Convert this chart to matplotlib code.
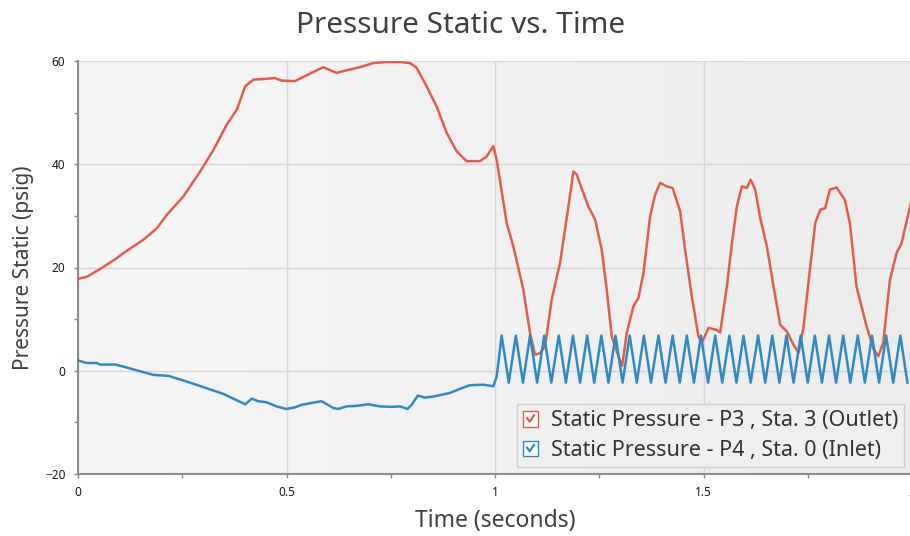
import numpy as np
import matplotlib
matplotlib.use('Agg')
import matplotlib.pyplot as plt
from matplotlib.legend_handler import HandlerBase
from matplotlib.patches import Rectangle
from matplotlib.lines import Line2D

plt.rcParams['font.family'] = ['Noto Sans', 'DejaVu Sans']

# P3 (outlet) static pressure, psig
p3_t = [0.000, 0.021, 0.053, 0.093, 0.109, 0.157, 0.189, 0.213, 0.253, 0.293,
        0.325, 0.357, 0.381, 0.401, 0.421, 0.444, 0.472, 0.488, 0.520, 0.540,
        0.560, 0.588, 0.620, 0.644, 0.676, 0.708, 0.740, 0.772, 0.796, 0.812,
        0.836, 0.860, 0.884, 0.908, 0.932, 0.964, 0.980, 0.996, 1.004, 1.028,
        1.044, 1.068, 1.084, 1.096, 1.108, 1.120, 1.136, 1.156, 1.176, 1.188,
        1.196, 1.212, 1.224, 1.240, 1.256, 1.268, 1.280, 1.296, 1.305, 1.316,
        1.332, 1.344, 1.356, 1.372, 1.384, 1.396, 1.412, 1.426, 1.444, 1.456,
        1.472, 1.488, 1.496, 1.512, 1.532, 1.540, 1.556, 1.568, 1.580, 1.592,
        1.604, 1.613, 1.624, 1.636, 1.652, 1.668, 1.684, 1.700, 1.716, 1.728,
        1.740, 1.756, 1.768, 1.780, 1.792, 1.803, 1.819, 1.839, 1.851, 1.867,
        1.891, 1.907, 1.919, 1.931, 1.947, 1.963, 1.975, 2.000]
p3_v = [17.8, 18.2, 19.7, 21.8, 22.8, 25.4, 27.6, 30.2, 33.8, 38.6,
        42.8, 47.7, 50.6, 55.1, 56.4, 56.5, 56.7, 56.2, 56.1, 56.9,
        57.7, 58.8, 57.7, 58.2, 58.8, 59.6, 59.8, 59.8, 59.6, 58.7,
        55.1, 51.2, 46.1, 42.5, 40.6, 40.6, 41.5, 43.5, 40.9, 28.6,
        24.1, 15.7, 7.3, 3.1, 3.4, 4.7, 13.8, 20.9, 31.8, 38.6,
        38.0, 34.4, 31.8, 29.3, 23.4, 15.7, 6.6, 2.8, 1.0, 7.3,
        12.5, 14.1, 18.9, 29.9, 34.1, 36.4, 35.7, 35.4, 30.9, 23.4,
        14.4, 6.6, 5.4, 8.3, 7.9, 7.4, 16.3, 24.7, 31.8, 35.7,
        35.4, 37.0, 35.1, 29.6, 24.1, 16.3, 8.9, 7.6, 5.0, 3.5,
        8.6, 20.2, 28.6, 31.2, 31.5, 35.1, 35.5, 33.1, 28.6, 16.3,
        8.6, 4.4, 2.8, 5.4, 17.6, 22.8, 24.7, 33.5]

# P4 (inlet) static pressure, psig
p4_t = [0.000, 0.021, 0.045, 0.053, 0.089, 0.109, 0.149, 0.181, 0.217, 0.261,
        0.309, 0.349, 0.401, 0.417, 0.432, 0.452, 0.476, 0.499, 0.520, 0.536,
        0.556, 0.584, 0.612, 0.624, 0.644, 0.668, 0.696, 0.724, 0.752, 0.772,
        0.790, 0.800, 0.815, 0.832, 0.852, 0.892, 0.916, 0.940, 0.972, 0.996,
        1.004,
        1.016, 1.033, 1.050, 1.067, 1.084, 1.101, 1.118, 1.135, 1.153, 1.170,
        1.187, 1.204, 1.221, 1.238, 1.255, 1.272, 1.289, 1.306, 1.323, 1.340,
        1.357, 1.374, 1.392, 1.409, 1.426, 1.443, 1.460, 1.477, 1.494, 1.511,
        1.528, 1.545, 1.562, 1.579, 1.596, 1.613, 1.631, 1.648, 1.665, 1.682,
        1.699, 1.716, 1.733, 1.750, 1.767, 1.784, 1.801, 1.818, 1.835, 1.852,
        1.870, 1.887, 1.904, 1.921, 1.938, 1.955, 1.972, 1.989]
p4_v = [2.0, 1.5, 1.5, 1.2, 1.2, 0.8, -0.1, -0.8, -1.0, -2.1,
        -3.4, -4.5, -6.5, -5.4, -5.9, -6.1, -6.9, -7.4, -7.1, -6.6,
        -6.3, -5.9, -7.2, -7.4, -6.9, -6.8, -6.5, -6.9, -7.0, -6.9,
        -7.4, -6.6, -4.8, -5.2, -5.0, -4.3, -3.5, -2.8, -2.7, -3.0,
        -1.1,
        6.8, -2.3, 6.8, -2.3, 6.8, -2.3, 6.8, -2.3, 6.8, -2.3,
        6.8, -2.3, 6.8, -2.3, 6.8, -2.3, 6.8, -2.3, 6.8, -2.3,
        6.8, -2.3, 6.8, -2.3, 6.8, -2.3, 6.8, -2.3, 6.8, -2.3,
        6.8, -2.3, 6.8, -2.3, 6.8, -2.3, 6.8, -2.3, 6.8, -2.3,
        6.8, -2.3, 6.8, -2.3, 6.8, -2.3, 6.8, -2.3, 6.8, -2.3,
        6.8, -2.3, 6.8, -2.3, 6.8, -2.3, 6.8, -2.3]

red = '#e35d4a'
blue = '#2f89c5'


class CheckBoxHandler(HandlerBase):
    # little check box like the one in the app legend
    def create_artists(self, legend, orig_handle, xdescent, ydescent,
                       width, height, fontsize, trans):
        c = orig_handle.get_color()
        s = height * 1.05
        x0 = xdescent
        y0 = -ydescent + (height - s) / 2
        box = Rectangle((x0, y0), s, s, facecolor='white', edgecolor=c,
                        linewidth=1.0, transform=trans)
        chk = Line2D([x0 + s * 0.28, x0 + s * 0.45, x0 + s * 0.72],
                     [y0 + s * 0.55, y0 + s * 0.32, y0 + s * 0.72],
                     color=c, linewidth=1.6, transform=trans)
        return [box, chk]


fig = plt.figure(figsize=(9.1, 5.36), dpi=100)
ax = fig.add_axes([78 / 910, 1 - 474 / 536, 834 / 910, 413 / 536])

# soft grey gradient background of the plot area
grad = np.linspace(0, 1, 256).reshape(1, -1)
ax.imshow(grad, extent=[0, 1, 0, 1], transform=ax.transAxes, aspect='auto',
          cmap=matplotlib.colors.LinearSegmentedColormap.from_list('bg', ['#f6f6f6', '#ececec']),
          zorder=0)

ax.plot(p3_t, p3_v, color=red, linewidth=1.8, zorder=3,
        label='Static Pressure - P3 , Sta. 3 (Outlet)')
ax.plot(p4_t, p4_v, color=blue, linewidth=1.8, zorder=3,
        label='Static Pressure - P4 , Sta. 0 (Inlet)')

ax.set_xlim(0, 2)
ax.set_ylim(-20, 60)
ax.set_xticks([0, 0.5, 1, 1.5, 2])
ax.set_xticklabels(['0', '0.5', '1', '1.5', '2'])
ax.set_xticks([0.25, 0.75, 1.25, 1.75], minor=True)
ax.set_yticks([-20, 0, 20, 40, 60])
ax.set_yticks([-10, 10, 30, 50], minor=True)
ax.grid(True, which='major', color='#d6d6d6', linewidth=1.0, zorder=1)
ax.set_axisbelow(True)

for side in ['top', 'right']:
    ax.spines[side].set_visible(False)
for side in ['left', 'bottom']:
    ax.spines[side].set_color('#8c8c8c')
    ax.spines[side].set_linewidth(1.5)
ax.tick_params(which='both', length=3, color='#8c8c8c', width=1.0,
               labelsize=8.5, labelcolor='#1a1a1a')
ax.tick_params(axis='x', pad=6)
ax.tick_params(axis='y', pad=6)

ax.set_title('Pressure Static vs. Time', fontsize=21.5, color='#404040', pad=20,
             x=(461 - 78) / 834)
ax.set_xlabel('Time (seconds)', fontsize=16.5, color='#404040', labelpad=7)
ax.set_ylabel('Pressure Static (psig)', fontsize=15, color='#404040', labelpad=8)

leg = ax.legend(loc='lower right', bbox_to_anchor=(0.9904, 0.017),
                fontsize=15.5, frameon=True, fancybox=False,
                handler_map={Line2D: CheckBoxHandler()},
                handlelength=0.85, handletextpad=0.45, borderpad=0.28,
                labelspacing=0.4, borderaxespad=0.0)
leg.get_frame().set_facecolor('#efefef')
leg.get_frame().set_edgecolor('#cfcfcf')
leg.get_frame().set_alpha(1.0)
for t in leg.get_texts():
    t.set_color('#333333')

fig.savefig('out.png', dpi=100)
